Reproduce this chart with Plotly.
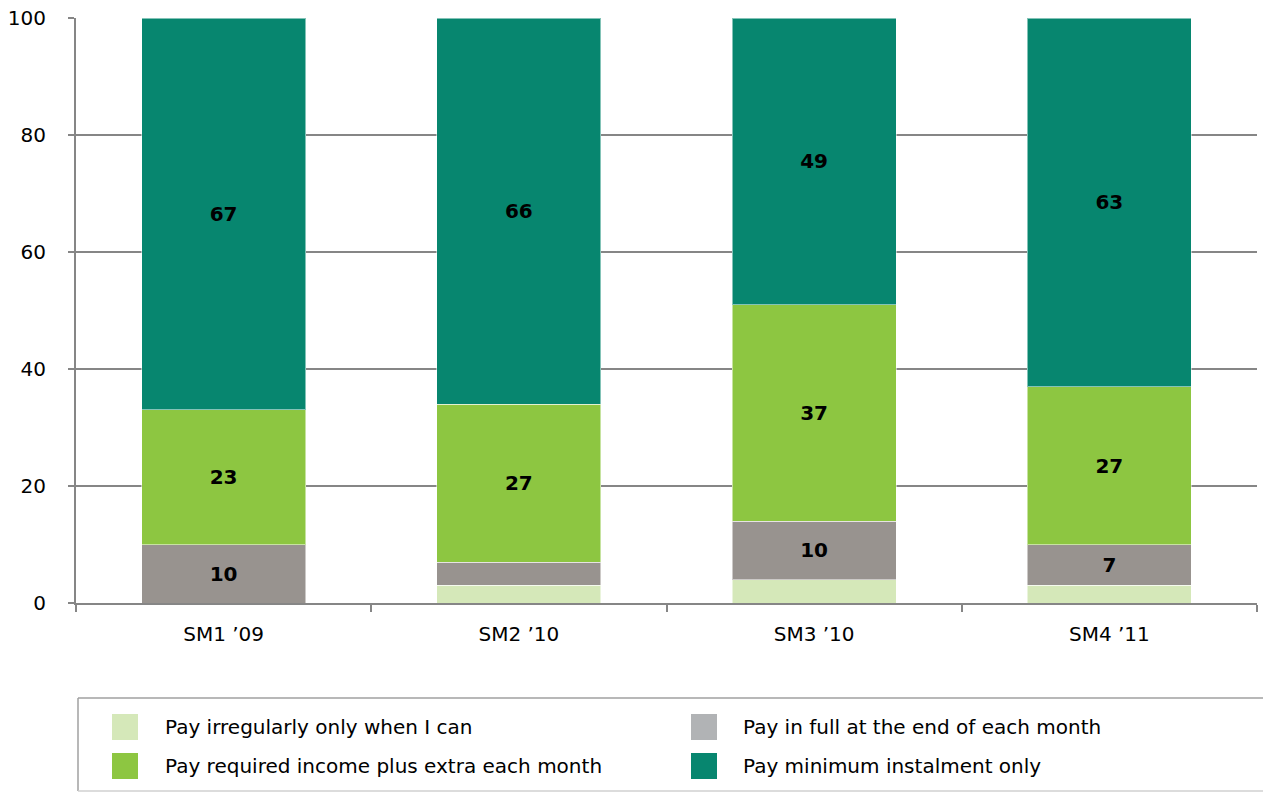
import plotly.graph_objects as go

# Survey waves
categories = ["SM1 \u201909", "SM2 \u201910", "SM3 \u201910", "SM4 \u201911"]

# Share of respondents (%) by repayment behaviour, stacked bottom-up
irregular = [0, 3, 4, 3]
full_monthly = [10, 4, 10, 7]
required_plus_extra = [23, 27, 37, 27]
minimum_only = [67, 66, 49, 63]

series = [
    ("Pay irregularly only when I can", irregular, "#d5e8b9", "#d5e8b9"),
    ("Pay in full at the end of each month", full_monthly, "#98938f", "#b1b3b5"),
    ("Pay required income plus extra each month", required_plus_extra, "#8dc641", "#8dc641"),
    ("Pay minimum instalment only", minimum_only, "#07866f", "#07866f"),
]

FONT = "Verdana, DejaVu Sans, sans-serif"
W, H = 1263, 792
L, R, T, B = 76, 6, 18, 189
PW, PH = W - L - R, H - T - B


def px_x(px):
    return (px - L) / PW


def px_y(py):
    return (H - B - py) / PH


fig = go.Figure()
for name, vals, bar_col, _ in series:
    fig.add_trace(go.Bar(
        x=categories, y=vals, name=name,
        marker=dict(color=bar_col, line=dict(color="rgba(255,255,255,0.5)", width=1)),
        text=[str(v) if v >= 5 else "" for v in vals],
        textposition="inside", insidetextanchor="middle",
        textfont=dict(family=FONT, size=20, color="#000000", weight="bold"),
        textangle=0, showlegend=False, hoverinfo="skip",
    ))

# Key below the chart: frame open on the right, two columns of swatches and labels
x0, x1, ytop, ybot = px_x(78), px_x(1263), px_y(698), px_y(791)
shapes = [
    dict(type="line", xref="paper", yref="paper", x0=x0, x1=x1, y0=ytop, y1=ytop,
         line=dict(color="#a0a0a0", width=1.5), layer="above"),
    dict(type="line", xref="paper", yref="paper", x0=x0, x1=x0, y0=ytop, y1=ybot,
         line=dict(color="#a0a0a0", width=1.5), layer="above"),
    dict(type="line", xref="paper", yref="paper", x0=x0, x1=x1, y0=ybot, y1=ybot,
         line=dict(color="#d0d0d0", width=1.5), layer="above"),
]
annotations = []
key_cols = [(112, 163), (691, 741)]
key_rows = [727, 766]
for i, (name, _, _, key_col) in enumerate(series):
    col = i % 2
    row = i // 2
    sx, tx = key_cols[col]
    cy = key_rows[row]
    shapes.append(dict(
        type="rect", xref="paper", yref="paper",
        x0=px_x(sx), x1=px_x(sx + 26), y0=px_y(cy + 13), y1=px_y(cy - 13),
        line=dict(width=0), fillcolor=key_col, layer="above",
    ))
    annotations.append(dict(
        xref="paper", yref="paper", x=px_x(tx), y=px_y(cy),
        xanchor="left", yanchor="middle", text=name, showarrow=False,
        font=dict(family=FONT, size=20, color="#000000"),
    ))

fig.update_layout(
    barmode="stack", bargap=0.444,
    width=W, height=H,
    margin=dict(l=L, r=R, t=T, b=B, autoexpand=False),
    plot_bgcolor="white", paper_bgcolor="white",
    font=dict(family=FONT, size=20, color="#000000"),
    uniformtext=dict(minsize=8, mode="show"),
    showlegend=False,
    shapes=shapes,
    annotations=annotations,
)
fig.update_yaxes(
    range=[0, 100], tickvals=[0, 20, 40, 60, 80, 100],
    showgrid=True, gridcolor="#868686", gridwidth=1.5,
    showline=True, linecolor="#868686", linewidth=2,
    ticks="outside", ticklen=6, tickcolor="#868686", tickwidth=1.5,
    ticklabelstandoff=18, zeroline=False,
    tickfont=dict(family=FONT, size=20),
)
fig.update_xaxes(
    showline=True, linecolor="#868686", linewidth=2,
    ticks="outside", tickson="boundaries", ticklen=7, tickcolor="#868686", tickwidth=1.5,
    ticklabelstandoff=12,
    tickfont=dict(family=FONT, size=20),
)

fig.write_html("out.html")
